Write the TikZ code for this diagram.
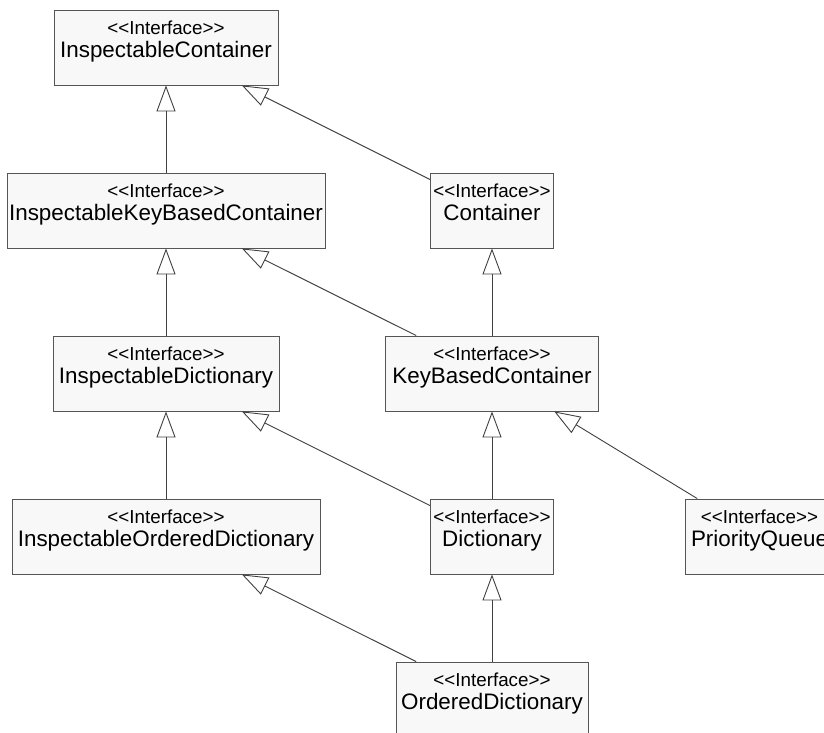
\documentclass[tikz,border=0pt]{standalone}
\usepackage{fontspec}
\newfontfamily\umlfont{Liberation Sans}
\usetikzlibrary{arrows.meta}
\definecolor{boxfill}{HTML}{F8F8F8}
\definecolor{boxline}{HTML}{555555}
\definecolor{edgeline}{HTML}{404040}
\tikzset{
  iface/.style={draw=boxline, fill=boxfill, line width=0.9pt, minimum height=75pt, inner sep=0pt},
  stereo/.style={anchor=base, inner sep=0pt, font=\umlfont\fontsize{18.8}{22}\selectfont},
  cname/.style={anchor=base, inner sep=0pt, font=\umlfont\fontsize{22.4}{26}\selectfont},
  inherit/.style={draw=edgeline, line width=0.9pt, -{Triangle[open, length=26pt, width=19pt]}}
}
\begin{document}
\begin{tikzpicture}[x=1pt, y=-1pt]
  \useasboundingbox (0,0) rectangle (824,733);
  \clip (0,0) rectangle (824,733);

  % Top
  \node[iface, minimum width=224pt] (ic) at (166,47.5) {};
  \node[stereo] (ic-s) at ([yshift=-25pt]ic.north) {<<Interface>>};
  \node[cname] (ic-n) at ([yshift=-48pt]ic.north) {InspectableContainer};

  % Second row
  \node[iface, minimum width=318pt] (ikbc) at (166,210.5) {};
  \node[stereo] (ikbc-s) at ([yshift=-25pt]ikbc.north) {<<Interface>>};
  \node[cname] (ikbc-n) at ([yshift=-48pt]ikbc.north) {InspectableKeyBasedContainer};

  \node[iface, minimum width=123pt] (cont) at (492,210.5) {};
  \node[stereo] (cont-s) at ([yshift=-25pt]cont.north) {<<Interface>>};
  \node[cname] (cont-n) at ([yshift=-48pt]cont.north) {Container};

  % Third row
  \node[iface, minimum width=226pt] (idict) at (166,373.5) {};
  \node[stereo] (idict-s) at ([yshift=-25pt]idict.north) {<<Interface>>};
  \node[cname] (idict-n) at ([yshift=-48pt]idict.north) {InspectableDictionary};

  \node[iface, minimum width=213pt] (kbc) at (492,373.5) {};
  \node[stereo] (kbc-s) at ([yshift=-25pt]kbc.north) {<<Interface>>};
  \node[cname] (kbc-n) at ([yshift=-48pt]kbc.north) {KeyBasedContainer};

  % Fourth row
  \node[iface, minimum width=308pt] (iod) at (166,536.5) {};
  \node[stereo] (iod-s) at ([yshift=-25pt]iod.north) {<<Interface>>};
  \node[cname] (iod-n) at ([yshift=-48pt]iod.north) {InspectableOrderedDictionary};

  \node[iface, minimum width=123pt] (dict) at (492,536.5) {};
  \node[stereo] (dict-s) at ([yshift=-25pt]dict.north) {<<Interface>>};
  \node[cname] (dict-n) at ([yshift=-48pt]dict.north) {Dictionary};

  \node[iface, minimum width=149pt] (pq) at (759.5,536.5) {};
  \node[stereo] (pq-s) at ([yshift=-25pt]pq.north) {<<Interface>>};
  \node[cname] (pq-n) at ([yshift=-48pt]pq.north) {PriorityQueue};

  % Bottom
  \node[iface, minimum width=192pt] (od) at (492,699.5) {};
  \node[stereo] (od-s) at ([yshift=-25pt]od.north) {<<Interface>>};
  \node[cname] (od-n) at ([yshift=-48pt]od.north) {OrderedDictionary};

  % Generalisations
  \draw[inherit] (ikbc) -- (ic);
  \draw[inherit] (cont) -- (ic);
  \draw[inherit] (idict) -- (ikbc);
  \draw[inherit] (kbc) -- (ikbc);
  \draw[inherit] (kbc) -- (cont);
  \draw[inherit] (iod) -- (idict);
  \draw[inherit] (dict) -- (idict);
  \draw[inherit] (dict) -- (kbc);
  \draw[inherit] (pq) -- (kbc);
  \draw[inherit] (od) -- (iod);
  \draw[inherit] (od) -- (dict);
\end{tikzpicture}
\end{document}
